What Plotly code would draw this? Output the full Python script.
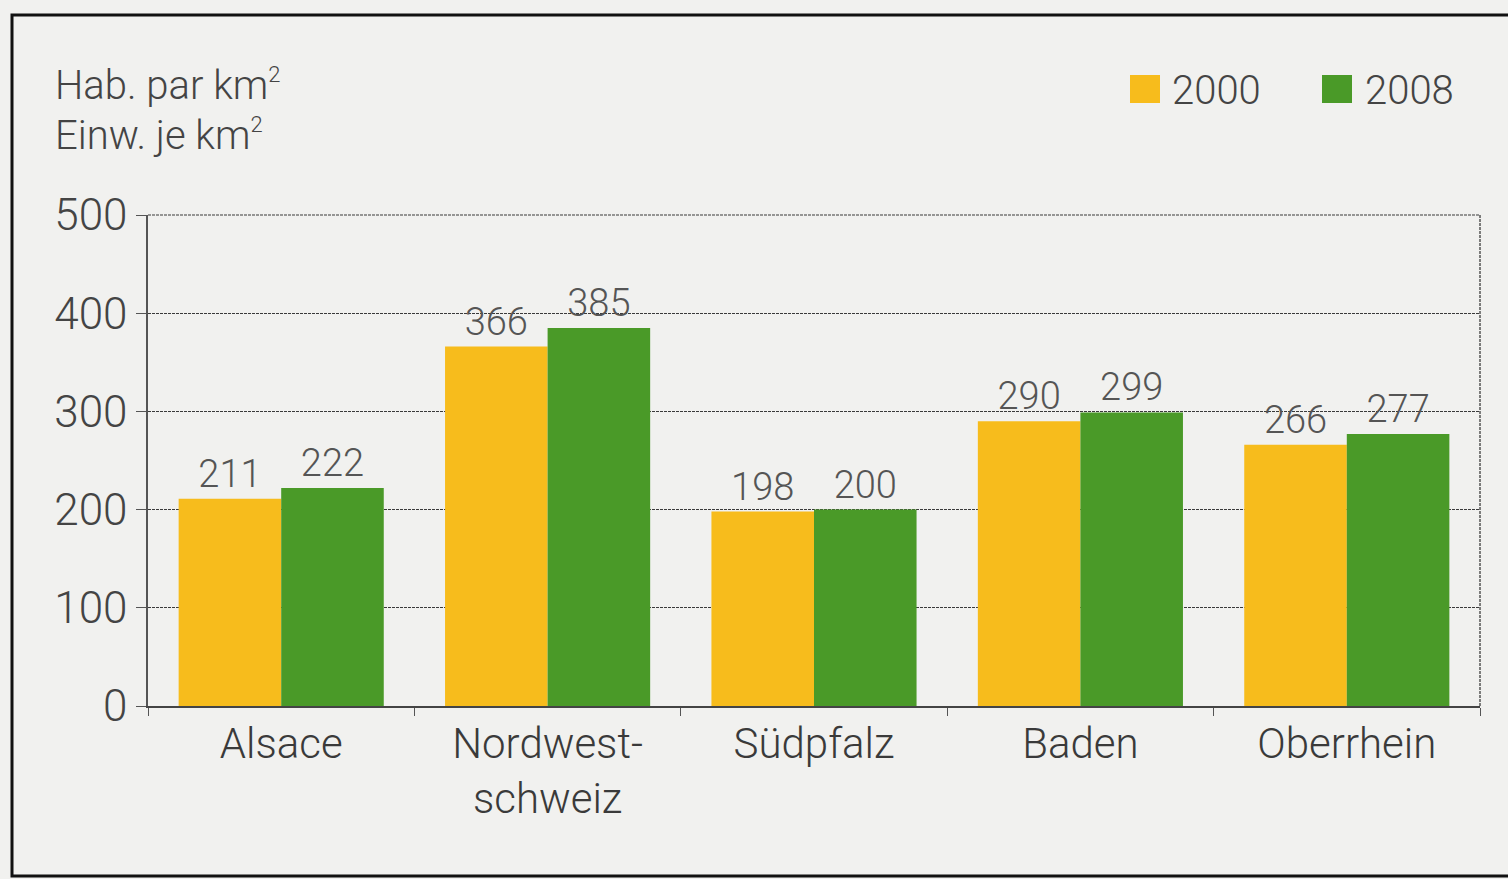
import plotly.graph_objects as go

categories = ["Alsace", "Nordwest-<br>schweiz", "Südpfalz", "Baden", "Oberrhein"]
values_2000 = [211, 366, 198, 290, 266]
values_2008 = [222, 385, 200, 299, 277]
series_names = ["2000", "2008"]
y_ticks = [0, 100, 200, 300, 400, 500]

YELLOW = "#F7BC1C"
GREEN = "#4A9A28"
BG = "#F1F1EF"
TXT = "#444444"
FONT = "Roboto"

W, H = 1508, 879
L, R, T, B = 148, 28, 215, 173
pw, ph = W - L - R, H - T - B

def px(x):
    return (x - L) / pw

def py(y):
    return (H - B - y) / ph

fig = go.Figure()
for name, vals, col in [(series_names[0], values_2000, YELLOW), (series_names[1], values_2008, GREEN)]:
    fig.add_trace(go.Bar(
        x=categories, y=vals, name=name, marker=dict(color=col, line=dict(width=0)),
        text=[str(v) for v in vals], textposition="outside",
        textfont=dict(family=FONT, size=38, color="#555555", weight=300),
        cliponaxis=False, showlegend=False,
    ))

fig.update_layout(
    width=W, height=H,
    margin=dict(l=L, r=R, t=T, b=B, pad=0),
    paper_bgcolor=BG, plot_bgcolor=BG,
    barmode="group", bargap=0.23, bargroupgap=0,
    font=dict(family=FONT, color=TXT, weight=300),
)
fig.update_xaxes(
    showgrid=False, showline=True, linecolor="#444444", linewidth=2,
    ticks="outside", tickson="boundaries", ticklen=8, tickcolor="#555555",
    tickfont=dict(family=FONT, size=42, color="#3a3a3a", weight=300),
    mirror=False,
)
fig.update_yaxes(
    range=[0, 500], tickvals=y_ticks, ticktext=[str(t) for t in y_ticks],
    showgrid=True, gridcolor="#3a3a3a", gridwidth=1.2, griddash="3px,1px",
    showline=True, linecolor="#555555", linewidth=1.5,
    ticks="outside", ticklen=10, tickcolor="#555555",
    tickfont=dict(family=FONT, size=44, color="#444444", weight=300),
    zeroline=False,
)

shapes = []
shapes.append(dict(type="line", xref="paper", yref="paper", x0=1, x1=1, y0=0, y1=1,
                   line=dict(color="#555555", width=1.5, dash="3px,1px")))
shapes.append(dict(type="line", xref="paper", yref="paper", x0=0, x1=1, y0=1, y1=1,
                   line=dict(color="#3a3a3a", width=1.2, dash="3px,1px"), layer="below"))
shapes.append(dict(type="rect", xref="paper", yref="paper",
                   x0=px(12), x1=px(1514), y0=py(876), y1=py(15),
                   line=dict(color="#111111", width=3), fillcolor="rgba(0,0,0,0)", layer="above"))
for x0, col in [(1130, YELLOW), (1322, GREEN)]:
    shapes.append(dict(type="rect", xref="paper", yref="paper",
                       x0=px(x0), x1=px(x0 + 30), y0=py(103), y1=py(75),
                       line=dict(width=0), fillcolor=col))
fig.update_layout(shapes=shapes)

sup = "<sup><span style='font-size:22px'>2</span></sup>"
annotations = [
    dict(text="Hab. par km" + sup, x=px(53), y=py(85), xref="paper", yref="paper",
         xanchor="left", yanchor="middle", showarrow=False,
         font=dict(family=FONT, size=40, color="#444444", weight=300)),
    dict(text="Einw. je km" + sup, x=px(53), y=py(135), xref="paper", yref="paper",
         xanchor="left", yanchor="middle", showarrow=False,
         font=dict(family=FONT, size=40, color="#444444", weight=300)),
]
for x0, name in [(1170, series_names[0]), (1363, series_names[1])]:
    annotations.append(dict(text=name, x=px(x0), y=py(90), xref="paper", yref="paper",
                            xanchor="left", yanchor="middle", showarrow=False,
                            font=dict(family=FONT, size=40, color="#444444", weight=300)))
fig.update_layout(annotations=annotations)

fig.write_html("out.html", config={"displayModeBar": False},
               post_script="document.body.style.margin='0';document.body.style.overflow='hidden';")
